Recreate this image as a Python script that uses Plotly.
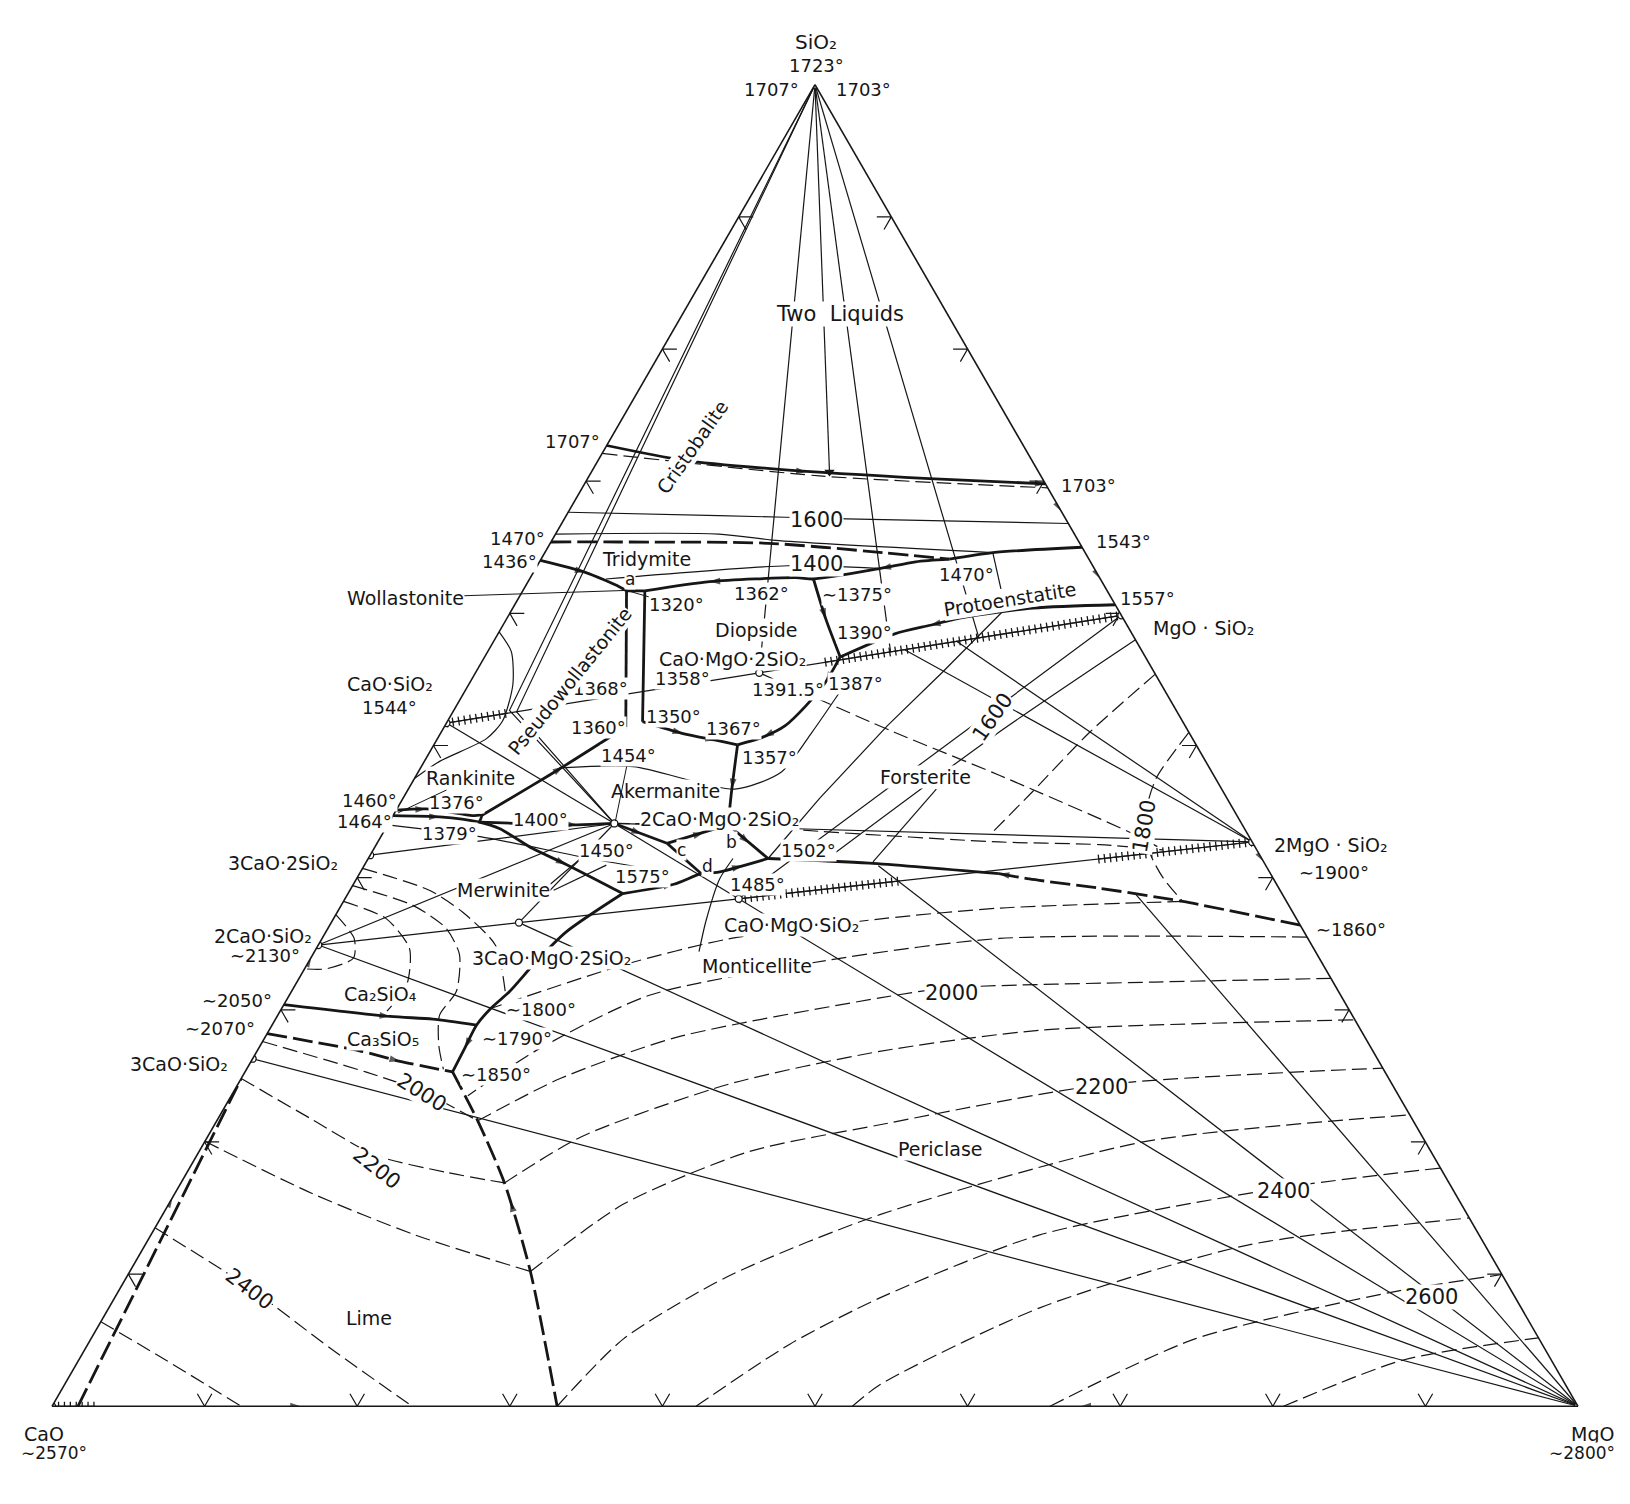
import plotly.graph_objects as go

INK = "#161616"
FONT = "DejaVu Sans"

# ---------------- data: compositions in wt %, each point = (SiO2, MgO); CaO is the remainder ----------------
SIO2_V = (100.0, 0.0)
CAO_V = (0.0, 0.0)
MGO_V = (0.0, 100.0)
CS = (51.7, 0.0)          # CaO.SiO2
C3S2 = (41.7, 0.0)        # 3CaO.2SiO2
C2S = (34.9, 0.0)         # 2CaO.SiO2
C3S = (26.3, 0.0)         # 3CaO.SiO2
MS = (59.85, 40.15)       # MgO.SiO2
M2S = (42.7, 57.3)        # 2MgO.SiO2
DIOP = (55.5, 18.6)       # CaO.MgO.2SiO2
AKER = (44.1, 14.8)       # 2CaO.MgO.2SiO2
MONT = (38.4, 25.8)       # CaO.MgO.SiO2
MERW = (36.6, 12.3)       # 3CaO.MgO.2SiO2
COMPOUNDS = [SIO2_V, CAO_V, MGO_V, CS, C3S2, C2S, C3S, MS, M2S, DIOP, AKER, MONT, MERW]

# boundary curves (heavy solid)
T_DOME = [(72.7, 0.0), (71.6, 5.5), (70.9, 12.2), (70.2, 22.4), (69.8, 30.2)]
T_1543 = [(64.1, 26.75), (64.6, 29.35), (65.0, 35.0)]
T_1436 = [(64.0, 0.0), (63.1, 3.4), (62.0, 6.2), (61.7, 6.8)]
T_A = [(61.7, 6.8), (61.7, 8.0)]
T_TRID_PYX = [(61.7, 8.0), (62.4, 11.9), (62.7, 17.4), (62.6, 18.6), (63.4, 22.6), (63.9, 24.65), (64.1, 26.75)]
T_VERT_L = [(61.7, 6.8), (51.4, 11.9)]
T_VERT_R = [(61.7, 8.0), (51.8, 12.8)]
T_1375 = [(62.6, 18.6), (59.6, 20.9), (56.7, 23.3)]
T_PROTO = [(56.7, 23.3), (58.45, 26.0), (59.1, 28.0), (59.7, 29.9), (60.4, 34.1), (60.65, 39.35)]
T_1387 = [(56.7, 23.3), (54.8, 23.3), (53.0, 22.9), (51.5, 22.3), (50.65, 21.3), (50.05, 19.9)]
T_1350 = [(51.8, 12.8), (50.9, 15.9), (50.4, 18.3), (50.05, 19.9)]
T_1357 = [(50.05, 19.9), (46.7, 21.2), (44.0, 22.3)]
T_1360 = [(51.4, 11.9), (48.4, 9.3), (47.0, 8.0), (44.7, 5.8)]
T_1460 = [(45.1, 0.0), (45.2, 1.9), (44.7, 5.2), (44.7, 5.8), (44.2, 5.9)]
T_1464 = [(44.7, 0.0), (44.6, 3.1), (44.2, 5.9), (43.7, 7.5), (42.2, 10.4), (41.0, 13.2), (38.8, 18.0)]
T_1400 = [(44.2, 5.9), (44.0, 12.4), (44.1, 14.8)]
T_AK_C = [(44.1, 14.8), (42.6, 19.0)]
T_C_B = [(42.6, 19.0), (44.0, 22.3)]
T_C_D = [(42.6, 19.0), (40.3, 22.4)]
T_1575_1502 = [(38.8, 18.0), (39.5, 21.0), (40.3, 22.4), (40.4, 23.4), (41.45, 26.2)]
T_B_1502 = [(44.0, 22.3), (41.45, 26.2)]
T_FORS_PER = [(41.45, 26.2), (41.1, 33.0), (40.3, 41.9)]
T_1575_1850 = [(38.8, 18.0), (35.9, 15.75), (33.65, 14.9), (31.4, 14.3), (30.1, 13.7), (28.85, 13.4), (27.1, 13.5), (25.3, 13.6)]
T_2050 = [(30.4, 0.0), (29.5, 7.4), (29.3, 10.3), (28.85, 13.4)]
HEAVY = [T_DOME, T_1543, T_1436, T_A, T_TRID_PYX, T_VERT_L, T_VERT_R, T_1375, T_PROTO, T_1387,
         T_1350, T_1357, T_1360, T_1460, T_1464, T_1400, T_AK_C, T_C_B, T_C_D, T_1575_1502,
         T_B_1502, T_FORS_PER, T_1575_1850, T_2050]

# boundary curves (heavy dashed)
TD_CRIS_TRID = [(65.4, 0.0), (65.4, 4.5), (65.3, 14.3), (64.6, 22.1), (64.1, 26.75)]
TD_FORS_PER = [(40.3, 41.9), (39.9, 44.1), (39.2, 49.05), (38.2, 55.0), (36.4, 63.6)]
TD_2070 = [(28.2, 0.0), (26.9, 6.7), (26.1, 9.75), (25.3, 13.6)]
TD_LIME_PER = [(25.3, 13.6), (21.6, 17.1), (16.9, 21.2), (10.2, 26.25), (0.0, 33.1)]
TD_LIME_SS = [(0.0, 1.7), (24.8, 0.0)]
HEAVY_DASHED = [TD_CRIS_TRID, TD_FORS_PER, TD_2070, TD_LIME_PER, TD_LIME_SS]

# thin straight lines: joins and tie lines
FAN_1 = [SIO2_V, DIOP]
FAN_ARROW = [SIO2_V, (70.7, 15.6)]
FAN_3 = [SIO2_V, (57.1, 26.4)]
FAN_4 = [SIO2_V, (58.1, 31.7)]
DBL_1 = [SIO2_V, (52.66, 3.65), AKER]
DBL_2 = [SIO2_V, (52.55, 4.17), AKER]
X1 = [(64.6, 29.35), (60.35, 32.3)]
X2 = [(60.35, 32.3), (55.6, 30.6), (51.5, 29.0), (46.0, 27.3), (41.45, 26.2)]
JOINS = [[CS, DIOP], [DIOP, MS], [CS, AKER], [C3S2, AKER], [C2S, AKER], [C2S, MERW, MONT],
         [MERW, AKER], [AKER, MONT], [AKER, M2S], [MONT, M2S], [MS, MONT],
         [M2S, (57.25, 27.25)], [M2S, (57.9, 30.3)]]
MGO_FAN_ENDS = [C3S, C2S, MERW, MONT, (40.9, 33.7), (38.7, 51.7)]
LEADER_MONT = [(34.4, 25.2), (36.7, 24.5), (39.9, 23.8), (41.45, 23.9)]
LEADER_FORS = [(46.7, 34.6), (41.2, 33.2)]
LEADER_MERW_1 = [(39.5, 12.9), (41.7, 14.05)]
LEADER_MERW_2 = [(39.05, 13.35), (40.95, 15.85)]
THIN = [FAN_1, FAN_ARROW, FAN_3, FAN_4, DBL_1, DBL_2, X1, X2] + JOINS + \
       [[MGO_V, e] for e in MGO_FAN_ENDS] + [LEADER_FORS, LEADER_MERW_1, LEADER_MERW_2]

# thin solid isotherms / curves
ISO_1600_TOP = [(67.65, 0.0), (67.4, 10.0), (67.15, 18.5), (66.8, 33.2)]
ISO_1500_TOP = [(66.0, 0.0), (66.0, 10.7), (65.5, 14.9), (64.6, 29.35)]
ISO_1400_TRID = [(62.6, 5.0), (63.6, 16.4), (63.4, 22.4)]
ISO_1600_FORS = [(58.0, 42.0), (50.8, 36.4), (41.3, 30.0)]
ISO_WOLL = [(58.6, 0.0), (57.1, 1.55), (54.6, 2.9), (51.85, 3.6), (50.5, 3.2), (48.8, 1.0), (47.5, 0.0)]
ISO_RANK = [(44.0, 0.0), (43.1, 6.5), (41.45, 14.5), (40.45, 20.0)]
ISO_AKER = [(48.3, 9.1), (48.4, 13.9), (46.7, 21.4), (48.0, 23.8), (51.0, 24.3), (54.05, 24.6)]
THIN_CURVES = [ISO_1600_TOP, ISO_1500_TOP, ISO_1400_TRID, ISO_1600_FORS, ISO_WOLL, ISO_RANK, ISO_AKER, LEADER_MONT]

# thin dashed lines / isotherms
D_DOME = [(72.1, 0.0), (70.4, 15.1), (69.5, 30.5)]
DS_DIOP = [DIOP, (51.0, 29.7), (47.75, 38.2), (43.1, 49.7), (42.1, 51.75)]
DS_AKER = [AKER, (44.0, 22.3), (43.5, 28.6), (42.7, 40.7), (42.5, 47.4), (42.1, 51.75)]
DS_1700 = [(55.4, 44.6), (51.0, 42.5), (46.5, 41.0), (43.4, 39.9)]
DS_1800_ARC = [(51.0, 49.0), (47.5, 48.6), (45.0, 49.2), (41.95, 50.95), (40.0, 52.8), (38.2, 55.0)]
DS_1800 = [(38.2, 55.0), (37.7, 43.3), (36.9, 36.0), (35.35, 26.6), (33.4, 20.75), (30.1, 13.7)]
DS_1900 = [(35.5, 64.5), (35.4, 44.4), (33.8, 34.2), (31.1, 23.6), (27.1, 18.45), (23.5, 15.5)]
P2000 = [(21.6, 17.1), (24.8, 20.9), (27.9, 26.9), (30.9, 38.8), (31.65, 42.9), (32.1, 56.2), (32.38, 67.62)]
P2100 = [(16.9, 21.2), (20.4, 24.5), (24.35, 32.1), (26.85, 40.8), (28.45, 50.5), (29.24, 70.76)]
P2200 = [(10.2, 26.25), (15.3, 29.8), (19.25, 36.0), (21.3, 43.6), (24.3, 56.5), (25.59, 74.41)]
P2300 = [(0.0, 33.1), (5.1, 34.9), (9.8, 39.35), (14.5, 47.0), (20.0, 61.5), (22.05, 77.95)]
P2400 = [(0.0, 42.2), (4.7, 46.0), (8.2, 50.15), (12.95, 58.2), (16.5, 72.2), (18.03, 81.97)]
P2500 = [(0.0, 52.45), (1.65, 53.45), (7.45, 61.0), (12.2, 72.25), (14.25, 85.75)]
P2600 = [(0.0, 65.4), (5.1, 72.35), (8.6, 83.35), (9.97, 90.03)]
P2700 = [(0.0, 80.7), (3.5, 86.8), (5.18, 94.82)]
L2000 = [(27.6, 0.0), (25.3, 7.9), (23.8, 12.4), (21.6, 17.1)]
L2200 = [(24.8, 0.0), (21.75, 6.1), (19.0, 11.7), (17.7, 17.0), (16.9, 21.2)]
L2300 = [(20.05, 0.0), (16.1, 9.0), (12.95, 17.35), (10.2, 26.25)]
L2400 = [(13.5, 0.0), (9.0, 8.4), (4.3, 16.2), (0.0, 23.6)]
L2500 = [(6.4, 0.0), (3.5, 5.7), (0.0, 12.4)]
ARC_1 = [(37.2, 0.0), (35.4, 2.1), (33.9, 2.8), (33.1, 1.4), (33.1, 0.0)]
ARC_B = [(38.2, 0.0), (36.9, 3.45), (34.65, 6.1), (31.9, 7.3), (29.9, 7.0)]
ARC_C = [(39.4, 0.0), (37.9, 4.7), (36.2, 7.7), (34.2, 9.6), (31.4, 10.8), (29.6, 10.6), (27.3, 11.7), (25.5, 12.9)]
ARC_D = [(40.7, 0.0), (39.05, 5.2), (37.4, 8.2), (34.9, 11.6), (31.4, 14.0)]
DASHED = [D_DOME, DS_DIOP, DS_AKER, DS_1700, DS_1800_ARC, DS_1800, DS_1900,
          P2000, P2100, P2200, P2300, P2400, P2500, P2600, P2700,
          L2000, L2200, L2300, L2400, L2500, ARC_1, ARC_B, ARC_C, ARC_D]

# hatched (solid-solution) segments
HATCH = [[CS, (52.45, 3.65)], [(56.3, 22.5), MS], [MONT, (39.75, 35.7)], [(41.4, 47.85), M2S], [CAO_V, (0.0, 2.8)]]

# arrowheads on boundary curves: (tail, head)
ARROWS = [
    ((70.9, 12.2), (70.7, 14.1)), ((70.2, 22.4), (69.8, 30.2)), ((64.0, 0.0), (63.1, 3.4)),
    ((62.7, 17.4), (62.4, 11.9)), ((63.9, 24.65), (63.4, 22.6)), ((62.6, 18.6), (59.6, 20.9)),
    ((59.7, 29.9), (59.1, 28.0)), ((56.7, 23.3), (54.8, 23.3)), ((51.5, 22.3), (50.65, 21.3)),
    ((51.8, 12.8), (50.9, 15.9)), ((50.9, 15.9), (50.4, 18.3)), ((50.05, 19.9), (46.7, 21.2)),
    ((47.0, 8.0), (48.4, 9.3)), ((45.1, 0.0), (45.2, 1.9)), ((44.7, 0.0), (44.6, 3.1)),
    ((42.2, 10.4), (41.0, 13.2)), ((44.2, 5.9), (44.0, 12.4)), ((44.1, 14.8), (43.3, 17.0)),
    ((42.6, 19.0), (43.4, 21.0)), ((42.6, 19.0), (41.2, 21.1)), ((44.0, 22.3), (42.6, 24.4)),
    ((38.8, 18.0), (39.5, 21.0)), ((40.4, 23.4), (40.9, 24.8)), ((39.9, 44.1), (40.3, 41.9)),
    ((35.9, 15.75), (33.65, 14.9)), ((28.85, 13.4), (27.1, 13.5)), ((30.4, 0.0), (29.5, 7.4)),
    ((26.9, 6.7), (26.1, 9.75)), ((10.2, 26.25), (15.5, 22.3)), ((0.0, 14.0), (0.0, 16.3)),
    ((0.0, 70.0), (0.0, 67.4)), ((69.0, 31.0), (67.7, 32.3)), ((64.0, 36.0), (62.6, 37.4)),
    ((42.0, 58.0), (41.2, 58.8)), ((12.0, 0.0), (15.8, 0.0)), ((33.0, 0.0), (34.0, 0.0)),
]

# edge graduation (every 10 %)
TICK_VALUES = [10, 20, 30, 40, 50, 60, 70, 80, 90]

# text labels: (text, x, y, size, angle) measured on the 1568 x 1447 reference
LABELS = [
    ("SiO₂", 785, 40, 20, 0), ("1723°", 785, 63, 18, 0), ("1707°", 742, 86, 18, 0), ("1703°", 831, 86, 18, 0),
    ("Two  Liquids", 808, 302, 21, 0), ("Cristobalite", 666, 430, 19, -55), ("1707°", 551, 425, 18, 0),
    ("1703°", 1047, 467, 18, 0), ("1600", 785, 500, 21, 0), ("1470°", 498, 518, 18, 0), ("1543°", 1081, 521, 18, 0),
    ("1436°", 490, 540, 18, 0), ("Tridymite", 622, 538, 19, 0), ("a", 606, 557, 17, 0), ("1400", 785, 543, 21, 0),
    ("1362°", 733, 571, 18, 0), ("∼1375°", 824, 572, 18, 0), ("1470°", 930, 553, 18, 0),
    ("Protoenstatite", 972, 576, 19, -9), ("1557°", 1104, 576, 18, 0), ("MgO · SiO₂", 1158, 604, 19, 0),
    ("Diopside", 728, 606, 19, 0), ("1390°", 832, 609, 18, 0), ("CaO·MgO·2SiO₂", 705, 634, 19, 0),
    ("1358°", 657, 653, 18, 0), ("1368°", 578, 662, 18, 0), ("Pseudowollastonite", 548, 655, 19, -51),
    ("1391.5°", 758, 663, 18, 0), ("1387°", 823, 658, 18, 0), ("CaO·SiO₂", 375, 658, 19, 0),
    ("1544°", 375, 681, 18, 0), ("1600", 955, 690, 21, -55), ("1360°", 576, 700, 18, 0), ("1350°", 648, 689, 18, 0),
    ("1367°", 706, 701, 18, 0), ("1357°", 740, 729, 18, 0), ("Forsterite", 890, 748, 19, 0),
    ("Akermanite", 640, 761, 19, 0), ("1460°", 355, 770, 18, 0), ("1376°", 439, 772, 18, 0),
    ("1400°", 520, 788, 18, 0), ("2CaO·MgO·2SiO₂", 692, 788, 19, 0), ("1464°", 351, 790, 18, 0),
    ("1379°", 432, 802, 18, 0), ("1450°", 583, 818, 18, 0), ("c", 656, 818, 17, 0), ("b", 704, 810, 17, 0),
    ("1502°", 778, 818, 18, 0), ("3CaO·2SiO₂", 272, 830, 19, 0), ("d", 681, 833, 17, 0),
    ("1575°", 618, 843, 18, 0), ("1485°", 729, 851, 18, 0), ("Merwinite", 484, 856, 19, 0),
    ("2MgO · SiO₂", 1280, 813, 19, 0), ("∼1900°", 1283, 839, 18, 0),
    ("CaO·MgO·SiO₂", 761, 890, 19, 0), ("∼1860°", 1300, 894, 18, 0),
    ("2CaO·SiO₂", 253, 901, 19, 0), ("∼2130°", 255, 919, 18, 0),
    ("3CaO·MgO·2SiO₂", 531, 922, 19, 0), ("Monticellite", 728, 929, 19, 0), ("2000", 915, 955, 21, 0),
    ("Ca₂SiO₄", 366, 956, 19, 0), ("∼2050°", 228, 963, 18, 0), ("∼1800°", 520, 971, 18, 0),
    ("∼2070°", 212, 990, 18, 0), ("Ca₃SiO₅", 368, 1000, 19, 0), ("∼1790°", 497, 999, 18, 0),
    ("3CaO·SiO₂", 172, 1024, 19, 0), ("∼1850°", 477, 1034, 18, 0), ("2000", 405, 1051, 21, 32),
    ("2200", 1060, 1046, 21, 0), ("2200", 362, 1124, 21, 38), ("Periclase", 905, 1105, 19, 0),
    ("2400", 1235, 1146, 21, 0), ("2400", 240, 1240, 21, 37), ("2600", 1377, 1248, 21, 0), ("Lime", 355, 1268, 19, 0),
    ("CaO", 42, 1380, 19, 0), ("∼2570°", 52, 1398, 17, 0), ("MgO", 1532, 1380, 19, 0), ("∼2800°", 1522, 1398, 17, 0),
    ("1800", 1101, 795, 21, -80),
]
# labels with straight leaders: (text, label x, label y, target x, target y, size)
LEADERS = [
    ("Wollastonite", 390, 575, 604, 568, 19), ("1320°", 651, 582, 606, 569, 18),
    ("Rankinite", 453, 749, 383, 782, 19), ("1454°", 605, 727, 592, 790, 18),
]

# ---------------- drawing ----------------
fig = go.Figure()


def abc(pts):
    a = [None if p is None else p[0] for p in pts]
    b = [None if p is None else 100 - p[0] - p[1] for p in pts]
    c = [None if p is None else p[1] for p in pts]
    return a, b, c


def add_line(pts, width, dash="solid", smooth=False):
    a, b, c = abc(pts)
    fig.add_trace(go.Scatterternary(
        a=a, b=b, c=c, mode="lines", hoverinfo="skip", showlegend=False, connectgaps=False,
        line=dict(color=INK, width=width, dash=dash, shape="spline" if smooth else "linear", smoothing=0.7)))


for pts in THIN:
    add_line(pts, 1.2)
for pts in THIN_CURVES:
    add_line(pts, 1.2, smooth=True)
for pts in DASHED:
    add_line(pts, 1.2, dash="15px,6px", smooth=True)
for pts in HEAVY:
    add_line(pts, 2.8, smooth=True)
for pts in HEAVY_DASHED:
    add_line(pts, 2.8, dash="20px,6px", smooth=True)
for pts in HATCH:
    add_line(pts, 1.2)
    add_line(pts, 9, dash="1.3px,4.6px")

# chevron graduations on the three edges (vertex on the edge, arms pointing inwards)
R3 = 3 ** 0.5


def to_xy(p):
    return (p[1] + p[0] / 2.0, p[0] * R3 / 2.0)


def to_sm(x, y):
    s = 2.0 * y / R3
    return (s, x - s / 2.0)


ARM = 0.95
chev = []
for v in TICK_VALUES:
    for vert, n, t in (((0.0, float(v)), (0.0, 1.0), (1.0, 0.0)),
                       ((float(v), 0.0), (R3 / 2, -0.5), (0.5, R3 / 2)),
                       ((float(v), 100.0 - v), (-R3 / 2, -0.5), (-0.5, R3 / 2))):
        vx, vy = to_xy(vert)
        tips = []
        for sg in (1, -1):
            dx = n[0] * R3 / 2 + sg * t[0] * 0.5
            dy = n[1] * R3 / 2 + sg * t[1] * 0.5
            tips.append(to_sm(vx + ARM * dx, vy + ARM * dy))
        chev += [tips[0], vert, tips[1], None]
add_line(chev, 1.2)

# arrowheads
arr_pts, arr_size = [], []
for tail, head in ARROWS:
    arr_pts += [tail, head]
    arr_size += [0, 11]
a, b, c = abc(arr_pts)
fig.add_trace(go.Scatterternary(a=a, b=b, c=c, mode="markers", hoverinfo="skip", showlegend=False,
                                marker=dict(symbol="arrow", size=arr_size, color=INK, angleref="previous",
                                            line=dict(width=0))))

# arrow of the two-liquid tie line
a, b, c = abc([FAN_ARROW[1]])
fig.add_trace(go.Scatterternary(a=a, b=b, c=c, mode="markers", hoverinfo="skip", showlegend=False,
                                marker=dict(symbol="triangle-down", size=9, color=INK)))
# compounds
a, b, c = abc(COMPOUNDS)
fig.add_trace(go.Scatterternary(a=a, b=b, c=c, mode="markers", hoverinfo="skip", showlegend=False,
                                marker=dict(symbol="circle", size=7, color="white", line=dict(color=INK, width=1.3))))

SC = 1630 / 1568


def paper(x, y):
    return x / 1568, 1 - y / 1447


for text, x, y, size, ang in LABELS:
    X, Y = paper(x, y)
    fig.add_annotation(x=X, y=Y, xref="paper", yref="paper", text=text, showarrow=False, textangle=ang,
                       xanchor="center", yanchor="middle", bgcolor="white", borderpad=0,
                       font=dict(family=FONT, size=size, color=INK))
for text, x, y, tx, ty, size in LEADERS:
    X, Y = paper(tx, ty)
    fig.add_annotation(x=X, y=Y, xref="paper", yref="paper", text=text, showarrow=True, arrowhead=0,
                       arrowwidth=1, arrowcolor=INK, ax=(x - tx) * SC, ay=(y - ty) * SC,
                       bgcolor="white", borderpad=0, font=dict(family=FONT, size=size, color=INK))

axis = dict(showticklabels=False, ticks="", showgrid=False, linecolor=INK, linewidth=1.6,
            title=dict(text=""))
fig.update_layout(
    width=1630, height=1504, margin=dict(l=0, r=0, t=0, b=0),
    paper_bgcolor="white", plot_bgcolor="white", showlegend=False,
    ternary=dict(sum=100, bgcolor="white",
                 domain=dict(x=[52 / 1630, 1578 / 1630], y=[1 - 1408 / 1504, 1 - 83 / 1504]),
                 aaxis=axis, baxis=axis, caxis=axis),
)
fig.write_html("out.html", config={"displayModeBar": False},
               post_script="document.body.style.margin='0';document.body.style.overflow='hidden';")
